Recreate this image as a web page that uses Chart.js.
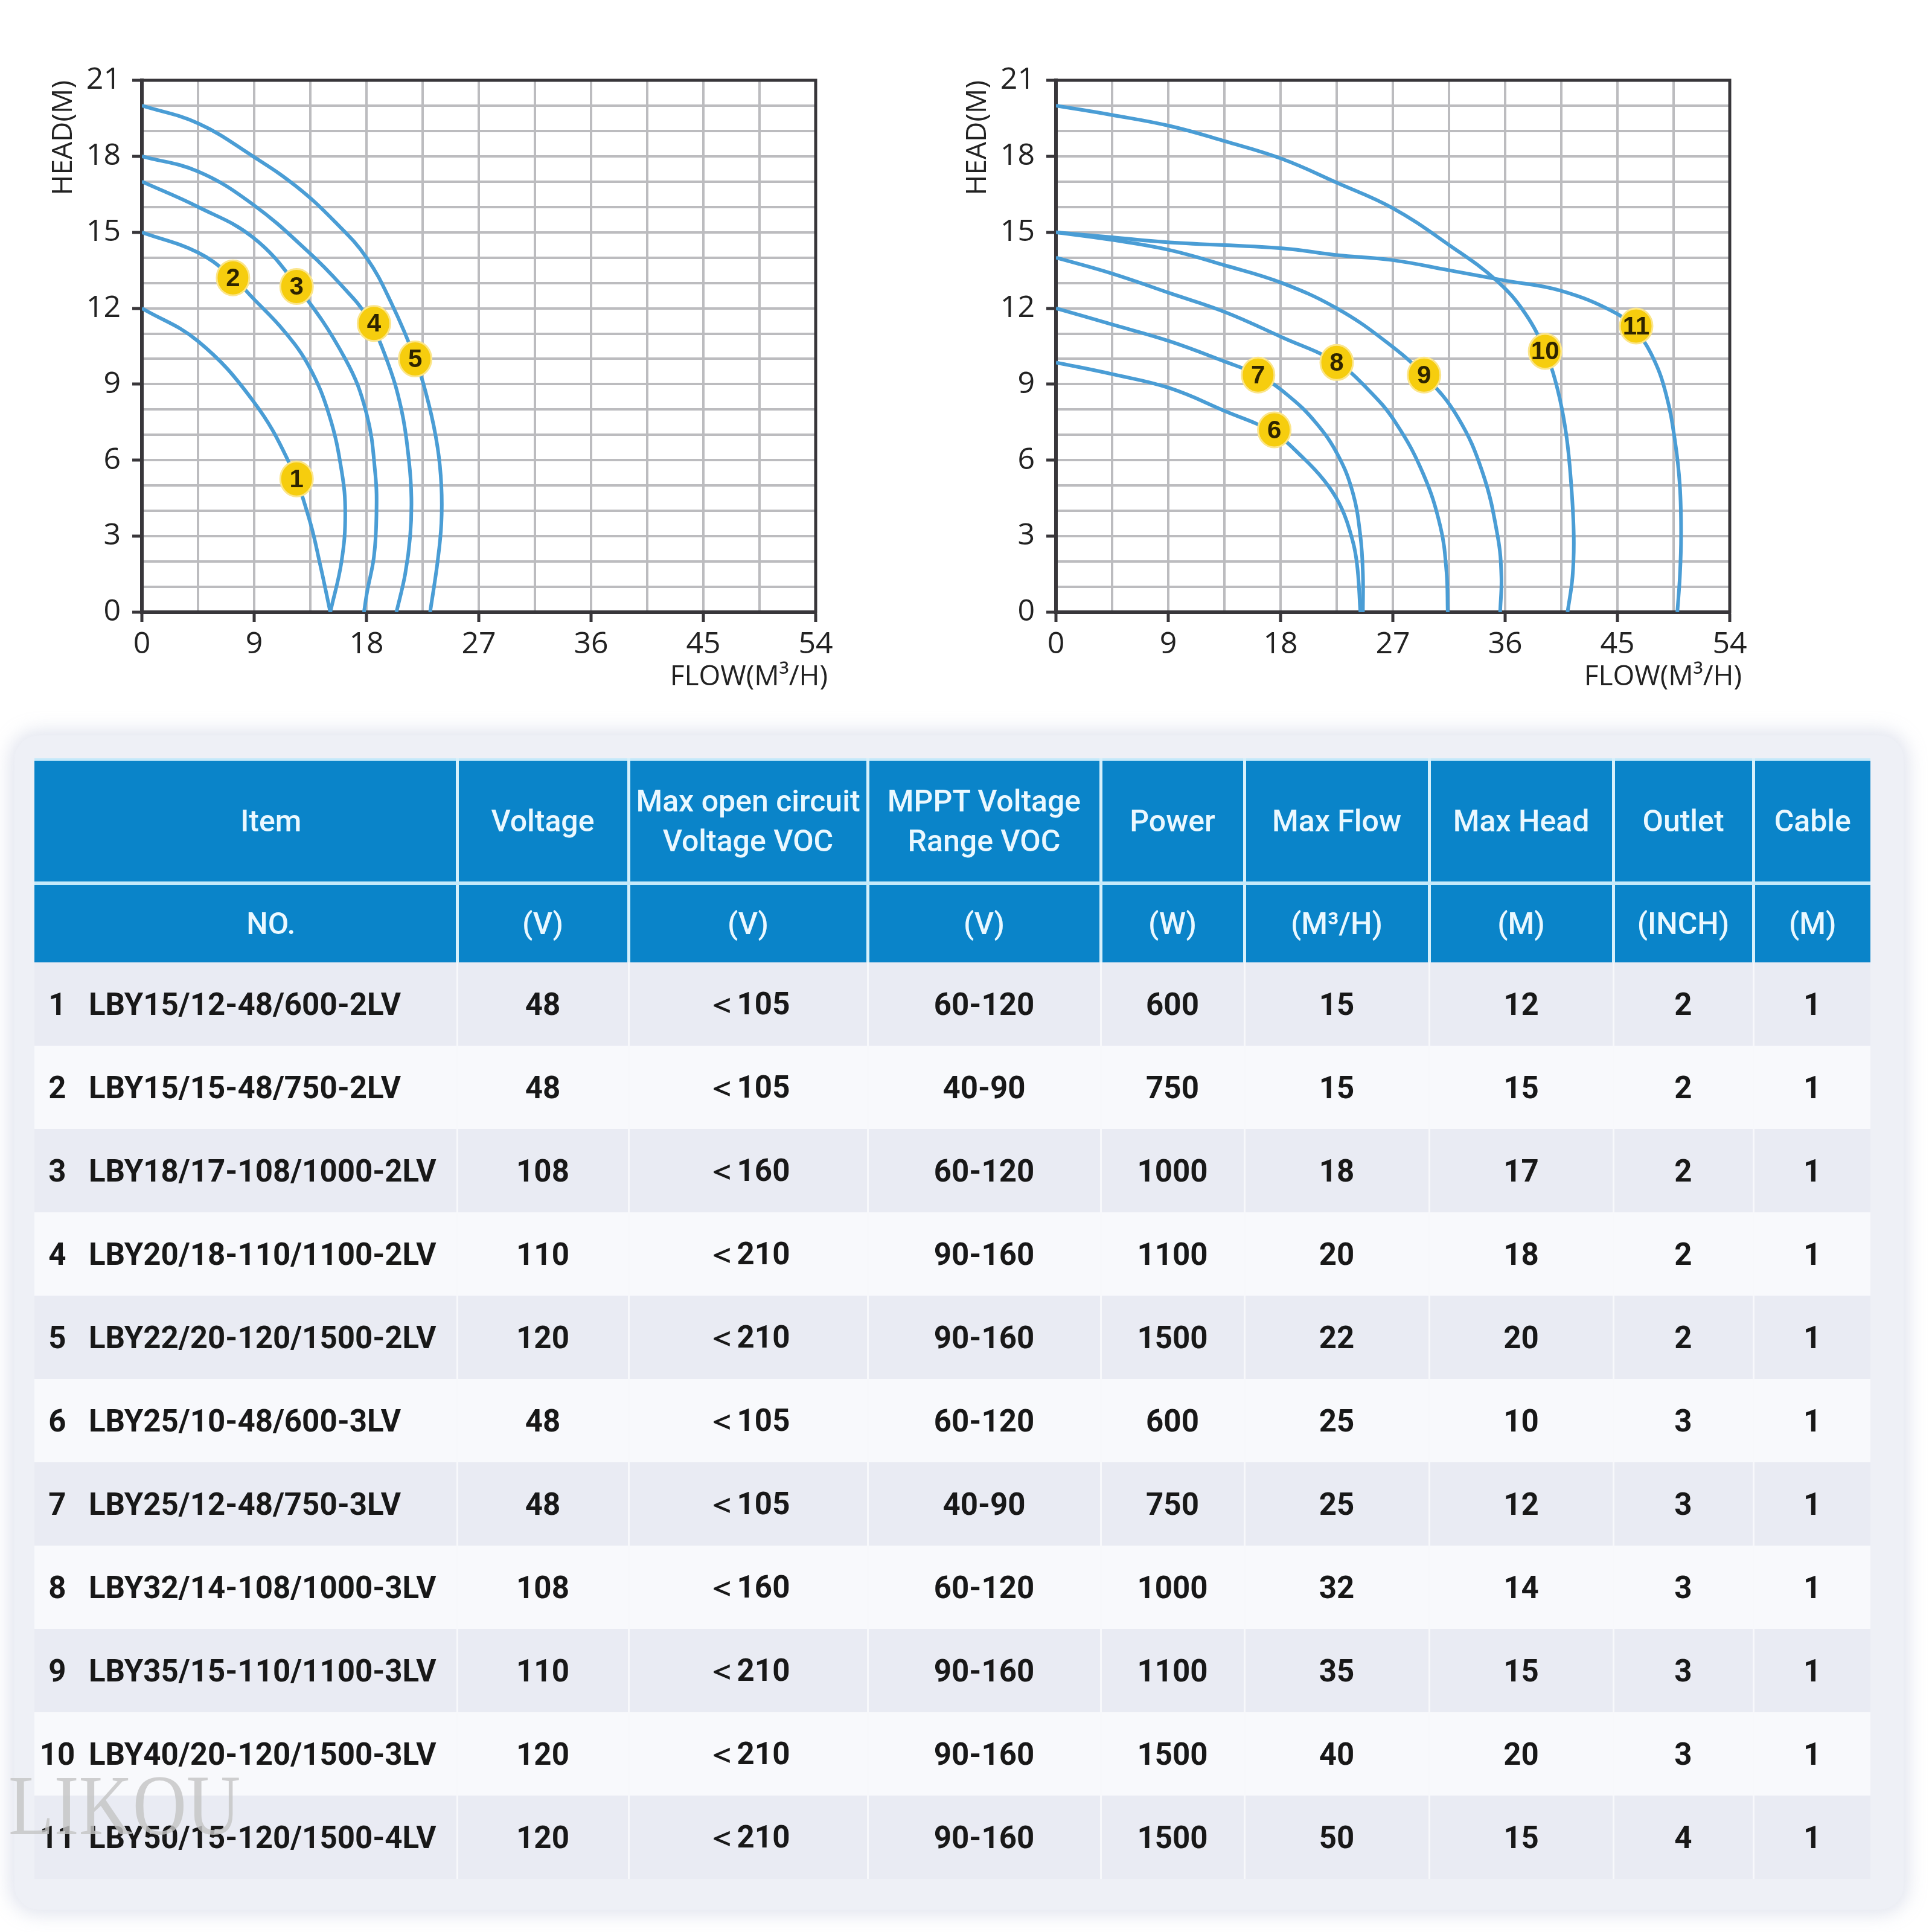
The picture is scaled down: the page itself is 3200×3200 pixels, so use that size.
<!DOCTYPE html>
<html>
<head>
<meta charset="utf-8">
<script src="https://cdn.jsdelivr.net/npm/chart.js@4.4.1/dist/chart.umd.min.js"></script>
<style>
html, body { margin: 0; padding: 0; background: #fff; }
body { width: 3200px; height: 3200px; position: relative; overflow: hidden; font-family: Roboto, "Liberation Sans", sans-serif; }
.chartBox { position: absolute; top: 0; width: 1480px; height: 1180px; }
#panel { position: absolute; left: 24px; top: 1218px; width: 3129px; height: 1945px; border-radius: 40px;
  background: #eef0f6; box-shadow: 0 0 30px 8px rgba(170, 178, 205, 0.35); }
#specTable { position: absolute; left: 57px; top: 1256px; width: 3041px; border-collapse: collapse; table-layout: fixed; }
#specTable th { background: #0a84c9; color: #eaf8ff; font-weight: 500; font-size: 50px; line-height: 66px; padding: 0;
  white-space: nowrap; border-left: 5px solid #d6f0fb; border-right: 5px solid #d6f0fb; }
#specTable tr.h1 th { height: 200px; border-top: 4px solid #c4e9fa; border-bottom: 6px solid #c4e9fa; }
#specTable tr.h2 th { height: 128px; }
#specTable th:first-child, #specTable td:first-child { border-left: none; }
#specTable th:last-child, #specTable td:last-child { border-right: none; }
#specTable th:first-child { padding-left: 86px; }
#specTable td { height: 138px; padding: 0; text-align: center; font-size: 51px; font-weight: 700; color: #181818;
  white-space: nowrap; border-left: 3px solid #f7f8fb; border-right: 3px solid #f7f8fb; }
#specTable tbody tr:nth-child(odd) td { background: #e9ebf3; }
#specTable tbody tr:nth-child(even) td { background: #f8f9fc; }
#specTable td.item { text-align: left; }
#specTable td.item .no { display: inline-block; width: 76px; text-align: center; }
#specTable td.item .model { margin-left: 14px; }
#watermark { position: absolute; left: 14px; top: 2908px; font-family: "Liberation Serif", serif; font-size: 142px;
  color: rgba(196, 196, 196, 0.82); transform: scaleX(0.87); transform-origin: left top; z-index: 5; }
</style>
</head>
<body>
<div class="chartBox" style="left:0px"><canvas id="leftChart" width="1480" height="1180"></canvas></div>
<div class="chartBox" style="left:1514px"><canvas id="rightChart" width="1480" height="1180"></canvas></div>

<div id="panel"></div>
<table id="specTable">
  <colgroup>
    <col style="width:700px"><col style="width:284px"><col style="width:396px"><col style="width:386px">
    <col style="width:238px"><col style="width:306px"><col style="width:305px"><col style="width:232px"><col style="width:194px">
  </colgroup>
  <thead>
    <tr class="h1">
      <th>Item</th><th>Voltage</th><th>Max open circuit<br>Voltage VOC</th><th>MPPT Voltage<br>Range VOC</th>
      <th>Power</th><th>Max Flow</th><th>Max Head</th><th>Outlet</th><th>Cable</th>
    </tr>
    <tr class="h2">
      <th>NO.</th><th>(V)</th><th>(V)</th><th>(V)</th><th>(W)</th><th>(M³/H)</th><th>(M)</th><th>(INCH)</th><th>(M)</th>
    </tr>
  </thead>
  <tbody id="specBody"></tbody>
</table>
<div id="watermark">LIKOU</div>

<script>
// 1. axis settings
const X_MAX = 54;
const Y_MAX = 21;
const xTickStep = 4.5;
const yTickStep = 1;
const xLabelEvery = 9;
const yLabelEvery = 3;

// 2. left chart curves (flow M3/H, head M)
const flow1 = [0, 4.5, 8.9, 11.8, 13.4, 14.3, 15.1];
const head1 = [12, 10.7, 8.35, 5.9, 3.7, 1.85, 0];
const flow2 = [0, 4.5, 7.3, 8.9, 11.4, 13.4, 15.0, 16.0, 16.3, 16.0, 15.1];
const head2 = [15, 14.2, 13.2, 12.4, 11.1, 9.7, 7.8, 5.6, 3.9, 2.0, 0];
const flow3 = [0, 4.5, 8.9, 12.4, 16.3, 18.0, 18.7, 18.8, 18.6, 18.05, 17.8];
const head3 = [17, 16.0, 14.8, 12.9, 10.0, 7.85, 5.5, 3.85, 2.2, 0.8, 0];
const flow4 = [0, 4.5, 8.9, 13.4, 16.0, 18.0, 19.6, 20.8, 21.4, 21.6, 21.5, 21.1, 20.4];
const head4 = [18, 17.4, 16.1, 14.2, 12.9, 11.7, 10.0, 8.0, 6.0, 4.5, 3.0, 1.5, 0];
const flow5 = [0, 4.5, 8.9, 12.4, 15.5, 18.0, 20.0, 21.9, 23.0, 23.7, 24.0, 24.0, 23.7, 23.1];
const head5 = [20, 19.3, 18.0, 16.8, 15.4, 14.0, 12.2, 10.0, 8.2, 6.5, 5.0, 3.5, 2.0, 0];

const leftMarkerNo = ['1', '2', '3', '4', '5'];
const leftMarkerFlow = [12.4, 7.3, 12.4, 18.6, 21.9];
const leftMarkerHead = [5.26, 13.2, 12.86, 11.4, 10.0];

// 3. right chart curves
const flow6 = [0, 4.5, 9.1, 13.5, 17.4, 19.8, 21.5, 22.7, 23.5, 24.1, 24.4];
const head6 = [9.86, 9.4, 8.85, 7.95, 7.1, 6.1, 5.2, 4.3, 3.3, 2.0, 0];
const flow7 = [0, 4.5, 9.1, 13.5, 16.2, 18.5, 20.8, 22.6, 23.8, 24.4, 24.6, 24.6];
const head7 = [12, 11.36, 10.7, 9.9, 9.36, 8.6, 7.5, 6.2, 4.7, 3.0, 1.5, 0];
const flow8 = [0, 4.5, 9.1, 13.5, 18.1, 22.5, 25.0, 27.2, 29.4, 30.8, 31.3, 31.4];
const head8 = [14, 13.37, 12.6, 11.86, 10.86, 9.86, 8.8, 7.5, 5.5, 3.4, 1.6, 0];
const flow9 = [0, 4.5, 9.1, 13.5, 18.1, 22.5, 26.4, 29.5, 32.2, 34.2, 35.4, 35.7, 35.6];
const head9 = [15, 14.7, 14.3, 13.7, 13.0, 12.0, 10.7, 9.36, 7.7, 5.5, 3.0, 1.4, 0];
const flow10 = [0, 4.5, 9.1, 13.5, 18.1, 22.5, 27, 31.5, 35.3, 37.6, 39.2, 40.2, 40.9, 41.3, 41.5, 41.4, 41.0];
const head10 = [20, 19.63, 19.2, 18.6, 17.9, 16.96, 15.95, 14.5, 13.1, 11.8, 10.3, 8.8, 7.0, 5.0, 3.0, 1.4, 0];
const flow11 = [0, 4.5, 9.1, 18.1, 22.5, 27, 31.5, 35.9, 40.4, 44.9, 46.5, 47.9, 48.9, 49.6, 50.0, 50.1, 50.0, 49.8];
const head11 = [15, 14.8, 14.6, 14.37, 14.1, 13.9, 13.5, 13.1, 12.7, 11.8, 11.1, 10.0, 8.6, 6.8, 5.0, 3.0, 1.4, 0];

const rightMarkerNo = ['6', '7', '8', '9', '10', '11'];
const rightMarkerFlow = [17.5, 16.2, 22.5, 29.5, 39.2, 46.5];
const rightMarkerHead = [7.2, 9.36, 9.86, 9.36, 10.3, 11.3];

// 4. table rows
const modelNames = ['LBY15/12-48/600-2LV', 'LBY15/15-48/750-2LV', 'LBY18/17-108/1000-2LV', 'LBY20/18-110/1100-2LV',
  'LBY22/20-120/1500-2LV', 'LBY25/10-48/600-3LV', 'LBY25/12-48/750-3LV', 'LBY32/14-108/1000-3LV',
  'LBY35/15-110/1100-3LV', 'LBY40/20-120/1500-3LV', 'LBY50/15-120/1500-4LV'];
const voltage = [48, 48, 108, 110, 120, 48, 48, 108, 110, 120, 120];
const maxVoc = ['＜105', '＜105', '＜160', '＜210', '＜210', '＜105', '＜105', '＜160', '＜210', '＜210', '＜210'];
const mpptRange = ['60-120', '40-90', '60-120', '90-160', '90-160', '60-120', '40-90', '60-120', '90-160', '90-160', '90-160'];
const power = [600, 750, 1000, 1100, 1500, 600, 750, 1000, 1100, 1500, 1500];
const maxFlow = [15, 15, 18, 20, 22, 25, 25, 32, 35, 40, 50];
const maxHead = [12, 15, 17, 18, 20, 10, 12, 14, 15, 20, 15];
const outlet = [2, 2, 2, 2, 2, 3, 3, 3, 3, 3, 4];
const cable = [1, 1, 1, 1, 1, 1, 1, 1, 1, 1, 1];

const CURVE_COLOR = '#4a9dd5';
const GRID_COLOR = '#bcbcbf';
const AXIS_COLOR = '#38363a';
const TEXT_COLOR = '#222222';
const AXIS_FONT = '"Open Sans", "DejaVu Sans", sans-serif';

function toPoints(xs, ys) {
    return xs.map((v, i) => ({ x: v, y: ys[i] }));
}

function curveSet(xs, ys) {
    return {
        data: toPoints(xs, ys),
        borderColor: CURVE_COLOR,
        borderWidth: 6,
        tension: 0.4,
        pointRadius: 0,
        fill: false
    };
}

function markerSet(nums, xs, ys) {
    return {
        data: toPoints(xs, ys),
        markerLabels: nums,
        showLine: false,
        pointRadius: 0
    };
}

// dark frame around plot area + flow title a bit past the right edge
const framePlugin = {
    id: 'frame',
    beforeDatasetsDraw(chart) {
        const { ctx, chartArea: a } = chart;
        ctx.save();
        ctx.strokeStyle = AXIS_COLOR;
        ctx.lineWidth = 5;
        ctx.strokeRect(a.left, a.top, a.right - a.left, a.bottom - a.top);
        ctx.restore();
    },
    afterDraw(chart) {
        const { ctx, chartArea: a } = chart;
        ctx.save();
        ctx.fillStyle = TEXT_COLOR;
        ctx.font = '46px ' + AXIS_FONT;
        ctx.textAlign = 'right';
        ctx.textBaseline = 'middle';
        ctx.fillText('FLOW(M³/H)', a.right + 20, a.bottom + 108);
        ctx.restore();
    }
};

// yellow numbered badges
const markerPlugin = {
    id: 'badges',
    afterDatasetsDraw(chart) {
        const ctx = chart.ctx;
        chart.data.datasets.forEach((ds, di) => {
            if (!ds.markerLabels) return;
            const meta = chart.getDatasetMeta(di);
            meta.data.forEach((pt, i) => {
                ctx.save();
                ctx.beginPath();
                ctx.ellipse(pt.x, pt.y, 27, 29, 0, 0, Math.PI * 2);
                ctx.fillStyle = '#f6cd0e';
                ctx.fill();
                ctx.lineWidth = 3;
                ctx.strokeStyle = '#fbe58a';
                ctx.stroke();
                ctx.fillStyle = '#2e2400';
                ctx.font = 'bold 42px "Liberation Sans Narrow", "Liberation Sans", sans-serif';
                ctx.textAlign = 'center';
                ctx.textBaseline = 'middle';
                ctx.fillText(ds.markerLabels[i], pt.x, pt.y + 2);
                ctx.restore();
            });
        });
    }
};

function makeChart(canvasId, datasets) {
    const tickFont = { family: AXIS_FONT, size: 50 };
    return new Chart(document.getElementById(canvasId), {
        type: 'line',
        data: { datasets: datasets },
        options: {
            responsive: false,
            animation: false,
            layout: { padding: { top: 133, right: 129, left: 0, bottom: 0 } },
            plugins: { legend: { display: false }, tooltip: { enabled: false } },
            scales: {
                x: {
                    type: 'linear',
                    min: 0,
                    max: X_MAX,
                    afterFit: s => { s.height = 166; },
                    ticks: {
                        stepSize: xTickStep,
                        autoSkip: false,
                        maxRotation: 0,
                        padding: 8,
                        color: TEXT_COLOR,
                        font: tickFont,
                        callback: v => (v % xLabelEvery === 0 ? v : '')
                    },
                    grid: {
                        color: GRID_COLOR,
                        lineWidth: 4,
                        tickLength: 16,
                        tickWidth: 5,
                        tickColor: c => (c.tick && c.tick.value % xLabelEvery === 0 ? AXIS_COLOR : 'rgba(0,0,0,0)')
                    },
                    border: { color: AXIS_COLOR, width: 6 }
                },
                y: {
                    type: 'linear',
                    min: 0,
                    max: Y_MAX,
                    afterFit: s => { s.width = 235; },
                    ticks: {
                        stepSize: yTickStep,
                        autoSkip: false,
                        padding: 19,
                        color: TEXT_COLOR,
                        font: tickFont,
                        callback: v => (v % yLabelEvery === 0 ? v : '')
                    },
                    grid: {
                        color: GRID_COLOR,
                        lineWidth: 4,
                        tickLength: 16,
                        tickWidth: 5,
                        tickColor: c => (c.tick && c.tick.value % yLabelEvery === 0 ? AXIS_COLOR : 'rgba(0,0,0,0)')
                    },
                    border: { color: AXIS_COLOR, width: 6 },
                    title: {
                        display: true,
                        text: 'HEAD(M)',
                        align: 'end',
                        color: TEXT_COLOR,
                        font: { family: AXIS_FONT, size: 46 },
                        padding: { top: 78, bottom: 0 }
                    }
                }
            }
        },
        plugins: [framePlugin, markerPlugin]
    });
}

// 5. draw charts
makeChart('leftChart', [
    curveSet(flow1, head1), curveSet(flow2, head2), curveSet(flow3, head3),
    curveSet(flow4, head4), curveSet(flow5, head5),
    markerSet(leftMarkerNo, leftMarkerFlow, leftMarkerHead)
]);

makeChart('rightChart', [
    curveSet(flow6, head6), curveSet(flow7, head7), curveSet(flow8, head8),
    curveSet(flow9, head9), curveSet(flow10, head10), curveSet(flow11, head11),
    markerSet(rightMarkerNo, rightMarkerFlow, rightMarkerHead)
]);

// 6. fill table
const body = document.getElementById('specBody');
modelNames.forEach((name, i) => {
    const tr = document.createElement('tr');
    const cells = [voltage[i], maxVoc[i], mpptRange[i], power[i], maxFlow[i], maxHead[i], outlet[i], cable[i]];
    let html = `<td class="item"><span class="no">${i + 1}</span><span class="model">${name}</span></td>`;
    cells.forEach(v => {
        html += `<td>${v}</td>`;
    });
    tr.innerHTML = html;
    body.appendChild(tr);
});
</script>
</body>
</html>
